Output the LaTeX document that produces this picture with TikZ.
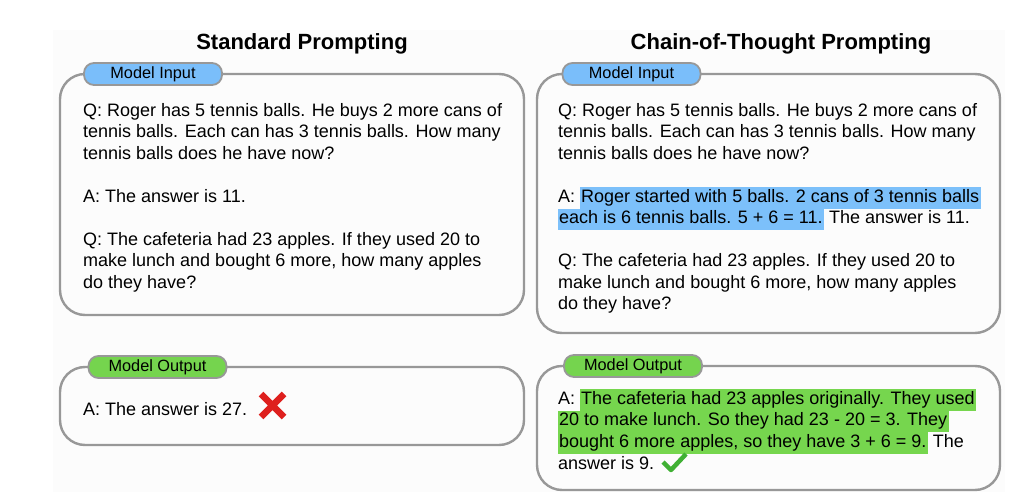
\documentclass[tikz,border=0pt]{standalone}
\usepackage{fontspec}
\setmainfont{Liberation Sans}
\definecolor{tagblue}{RGB}{122,190,250}
\definecolor{taggreen}{RGB}{117,212,78}
\definecolor{hlblue}{RGB}{124,192,250}
\definecolor{hlgreen}{RGB}{118,214,78}
\definecolor{framegray}{RGB}{152,152,152}
\definecolor{panelgray}{RGB}{252,252,252}
\definecolor{crossred}{RGB}{222,32,30}
\definecolor{tickgreen}{RGB}{64,176,52}
\newcommand{\hlb}[1]{{\setlength{\fboxsep}{0pt}\colorbox{hlblue}{\strut\kern1pt#1\kern1.5pt}}}
\newcommand{\hlg}[1]{{\setlength{\fboxsep}{0pt}\colorbox{hlgreen}{\strut\kern1pt#1\kern1.5pt}}}
\begin{document}
\begin{tikzpicture}[x=1pt, y=-1pt, line join=round,
	box/.style={draw=framegray, line width=2.4pt, rounded corners=25pt},
	tag/.style={draw=framegray, line width=1.8pt, rounded corners=10pt, minimum width=138pt, minimum height=22pt, inner sep=0pt, font=\fontsize{16.3}{19}\selectfont},
	body/.style={anchor=north west, inner sep=0pt, align=left, font=\fontsize{18}{21.5}\selectfont},
	title/.style={font=\fontsize{22}{26}\selectfont\bfseries}]
	\useasboundingbox (0,0) rectangle (1034,502);
	% nen xam rat nhat
	\fill[panelgray] (53,30) rectangle (1005,492);
	% Tieu de
	\node[title] (tL) at (302,44) {Standard Prompting};
	\node[title] (tR) at (781,44) {Chain-of-Thought Prompting};
	% Khung
	\draw[box] (60,74) rectangle (524,315);
	\draw[box] (60,367) rectangle (524,445);
	\draw[box] (537,74) rectangle (1000,333);
	\draw[box] (537,366) rectangle (1000,490);
	% Nhan
	\node[tag, fill=tagblue] (inL) at (153,74) {Model Input};
	\node[tag, fill=taggreen] (outL) at (157.5,367) {Model Output};
	\node[tag, fill=tagblue] (inR) at (631.5,74) {Model Input};
	\node[tag, fill=taggreen] (outR) at (633,366) {Model Output};
	% Van ban ben trai
	\node[body] (qL) at (83,101) {\strut Q: Roger has 5 tennis balls. He buys 2 more cans of\\
		tennis balls. Each can has 3 tennis balls. How many\\
		tennis balls does he have now?\\[21.5pt]
		A: The answer is 11.\\[21.5pt]
		Q: The cafeteria had 23 apples. If they used 20 to\\
		make lunch and bought 6 more, how many apples\\
		do they have?};
	\node[body] (aL) at (83,400) {\strut A: The answer is 27.};
	% Van ban ben phai
	\node[body] (qR) at (558,101) {\strut Q: Roger has 5 tennis balls. He buys 2 more cans of\\
		tennis balls. Each can has 3 tennis balls. How many\\
		tennis balls does he have now?\\[21.5pt]
		A: \hlb{Roger started with 5 balls. 2 cans of 3 tennis balls}\\
		\hlb{each is 6 tennis balls. 5 + 6 = 11.} The answer is 11.\\[21.5pt]
		Q: The cafeteria had 23 apples. If they used 20 to\\
		make lunch and bought 6 more, how many apples\\
		do they have?};
	\node[body] (aR) at (558,389) {A: \hlg{The cafeteria had 23 apples originally. They used}\\
		\hlg{20 to make lunch. So they had 23 - 20 = 3. They}\\
		\hlg{bought 6 more apples, so they have 3 + 6 = 9.} The\\[1pt]
		\strut answer is 9.};
	% Dau sai va dau dung
	\draw[crossred, line width=6.5pt] (261,394)--(284,417) (284,394)--(261,417);
	\draw[tickgreen, line width=4.5pt] (663,462)--(671,470)--(686,454);
\end{tikzpicture}
\end{document}
